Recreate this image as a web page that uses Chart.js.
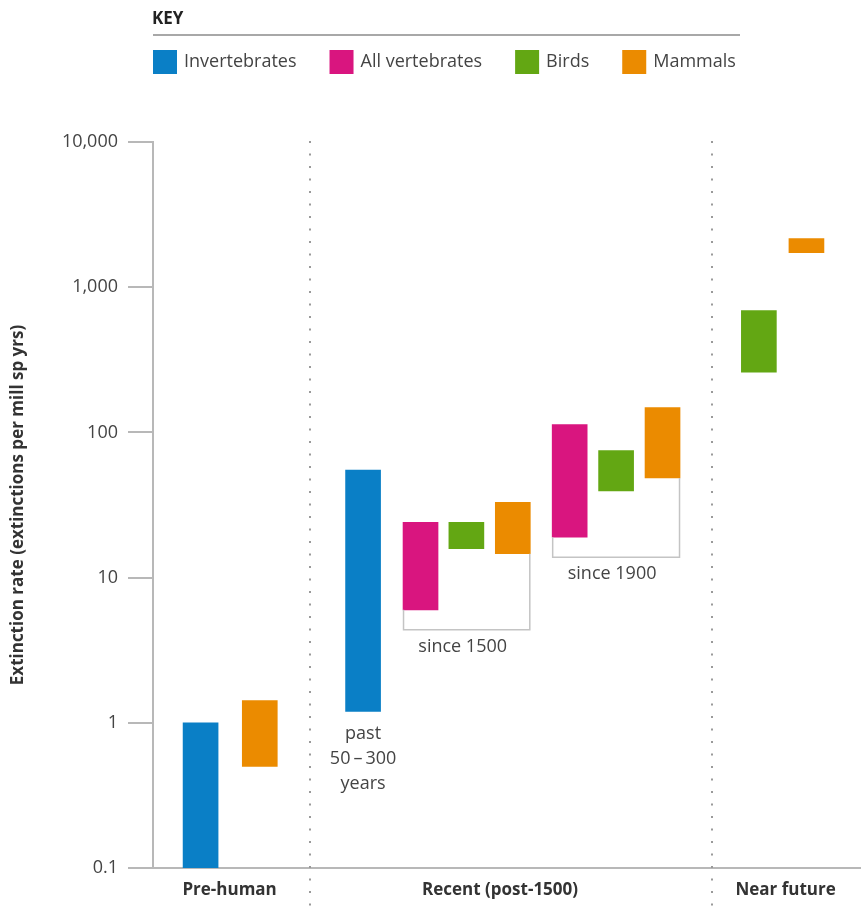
<!DOCTYPE html>
<html>
<head>
<meta charset="utf-8">
<script src="https://cdn.jsdelivr.net/npm/chart.js@4.4.0/dist/chart.umd.min.js"></script>
<style>
  html, body { margin: 0; padding: 0; background: #fff; }
</style>
</head>
<body>
<canvas id="chart" width="861" height="907"></canvas>
<script>
var periods = ["Pre-human", "Recent (post-1500)", "Near future"];
var seriesNames = ["Invertebrates", "All vertebrates", "Birds", "Mammals"];
var seriesColors = ["#0a7fc6", "#d9157f", "#63a713", "#eb8b00"];

// [low, high] extinction rates, extinctions per million species-years
var invertebrates = [[0.1, 1.0], [1.2, 55]];
var allVertebrates = [[6, 24], [19, 113]];
var birds = [[15.8, 24], [39.6, 75], [260, 690]];
var mammals = [[0.5, 1.42], [14.6, 33], [48.5, 148], [1730, 2160]];

var yTicks = [0.1, 1, 10, 100, 1000, 10000];

// slot positions along the x scale (0 - 61)
var invertebrateSlots = [4.1, 18.1];
var vertebrateSlots = [23.05, 35.9];
var birdSlots = [27.0, 39.9, 52.2];
var mammalSlots = [9.2, 31.0, 43.9, 56.3];
var periodSlots = [6.6, 29.9, 54.5];
var dividerSlots = [13.5, 48.15];

var fontFamily = "'Open Sans', sans-serif";

function toPoints(slots, ranges) {
    return ranges.map(function(r, i) { return { x: slots[i], y: r }; });
}

var allSeries = [
    toPoints(invertebrateSlots, invertebrates),
    toPoints(vertebrateSlots, allVertebrates),
    toPoints(birdSlots, birds),
    toPoints(mammalSlots, mammals)
];

var datasets = allSeries.map(function(points, i) {
    return {
        label: seriesNames[i],
        data: points,
        backgroundColor: seriesColors[i]
    };
});

// brackets: [dataset index, point index] of first and last bar
var brackets = [
    { label: "since 1500", from: [1, 0], to: [3, 1] },
    { label: "since 1900", from: [1, 1], to: [3, 2] }
];

var decorations = {
    id: "decorations",
    beforeDatasetsDraw: function(chart) {
        var ctx = chart.ctx;
        var x = chart.scales.x;
        ctx.save();
        ctx.strokeStyle = "#9a9a9a";
        ctx.lineWidth = 2;
        ctx.setLineDash([2, 10.5]);
        dividerSlots.forEach(function(s) {
            var px = Math.round(x.getPixelForValue(s));
            ctx.beginPath();
            ctx.moveTo(px, 141);
            ctx.lineTo(px, 907);
            ctx.stroke();
        });
        ctx.restore();
    },
    afterDraw: function(chart) {
        var ctx = chart.ctx;
        ctx.save();

        // key
        ctx.fillStyle = "#222";
        ctx.font = "bold 17px " + fontFamily;
        ctx.textBaseline = "alphabetic";
        ctx.textAlign = "left";
        ctx.fillText("KEY", 152, 24);
        ctx.strokeStyle = "#a8a8a8";
        ctx.lineWidth = 2;
        ctx.beginPath();
        ctx.moveTo(153, 35);
        ctx.lineTo(740, 35);
        ctx.stroke();

        ctx.font = "18px " + fontFamily;
        ctx.textBaseline = "middle";
        var lx = 153;
        chart.data.datasets.forEach(function(ds) {
            ctx.fillStyle = ds.backgroundColor;
            ctx.fillRect(lx, 50, 24, 24);
            ctx.fillStyle = "#444";
            ctx.fillText(ds.label, lx + 31, 62);
            lx += 31 + ctx.measureText(ds.label).width + 33;
        });

        // brackets
        ctx.strokeStyle = "#c4c4c4";
        ctx.lineWidth = 1.5;
        ctx.fillStyle = "#444";
        ctx.textAlign = "center";
        brackets.forEach(function(b) {
            var first = chart.getDatasetMeta(b.from[0]).data[b.from[1]];
            var last = chart.getDatasetMeta(b.to[0]).data[b.to[1]];
            var left = first.x - first.width / 2;
            var right = last.x + last.width / 2;
            var firstBottom = Math.max(first.y, first.base);
            var lastBottom = Math.max(last.y, last.base);
            var by = Math.max(firstBottom, lastBottom) + 20;
            ctx.beginPath();
            ctx.moveTo(left + 0.5, firstBottom);
            ctx.lineTo(left + 0.5, by);
            ctx.lineTo(right - 0.5, by);
            ctx.lineTo(right - 0.5, lastBottom);
            ctx.stroke();
            ctx.fillText(b.label, (left + right) / 2 - 4, by + 17);
        });

        // note under recent invertebrates
        var inv = chart.getDatasetMeta(0).data[1];
        var invBottom = Math.max(inv.y, inv.base);
        ["past", "50\u2009\u2013\u2009300", "years"].forEach(function(t, i) {
            ctx.fillText(t, inv.x, invBottom + 23 + i * 25);
        });

        ctx.restore();
    }
};

var chart = new Chart(document.getElementById("chart"), {
    type: "bar",
    data: { datasets: datasets },
    options: {
        responsive: false,
        animation: false,
        layout: { padding: { top: 142, right: 0, bottom: 0, left: 0 } },
        plugins: {
            legend: { display: false },
            tooltip: { enabled: false }
        },
        datasets: {
            bar: { barThickness: 35, grouped: false, borderWidth: 0 }
        },
        scales: {
            x: {
                type: "linear",
                min: 0,
                max: 61,
                offset: false,
                grid: { display: false, drawTicks: false },
                border: { display: true, color: "#b8b8b8", width: 2 },
                afterBuildTicks: function(scale) {
                    scale.ticks = periodSlots.map(function(v) { return { value: v }; });
                },
                afterFit: function(scale) { scale.height = 39; },
                ticks: {
                    autoSkip: false,
                    maxRotation: 0,
                    padding: 12,
                    color: "#333",
                    font: { family: fontFamily, size: 17, weight: "bold" },
                    callback: function(v, i) { return periods[i]; }
                }
            },
            y: {
                type: "logarithmic",
                min: 0.1,
                max: 10000,
                afterBuildTicks: function(scale) {
                    scale.ticks = yTicks.map(function(v) { return { value: v }; });
                },
                afterFit: function(scale) { scale.width = 153; },
                grid: { drawOnChartArea: false, tickLength: 25, color: "#b8b8b8", lineWidth: 2 },
                border: { color: "#b8b8b8", width: 2 },
                ticks: {
                    padding: 10,
                    color: "#444",
                    font: { family: fontFamily, size: 18 },
                    callback: function(v) { return Number(v).toLocaleString("en-US"); }
                },
                title: {
                    display: true,
                    text: "Extinction rate (extinctions per mill sp yrs)",
                    color: "#333",
                    padding: { top: 8, bottom: 0 },
                    font: { family: fontFamily, size: 17, weight: "bold" }
                }
            }
        }
    },
    plugins: [decorations]
});
</script>
</body>
</html>
